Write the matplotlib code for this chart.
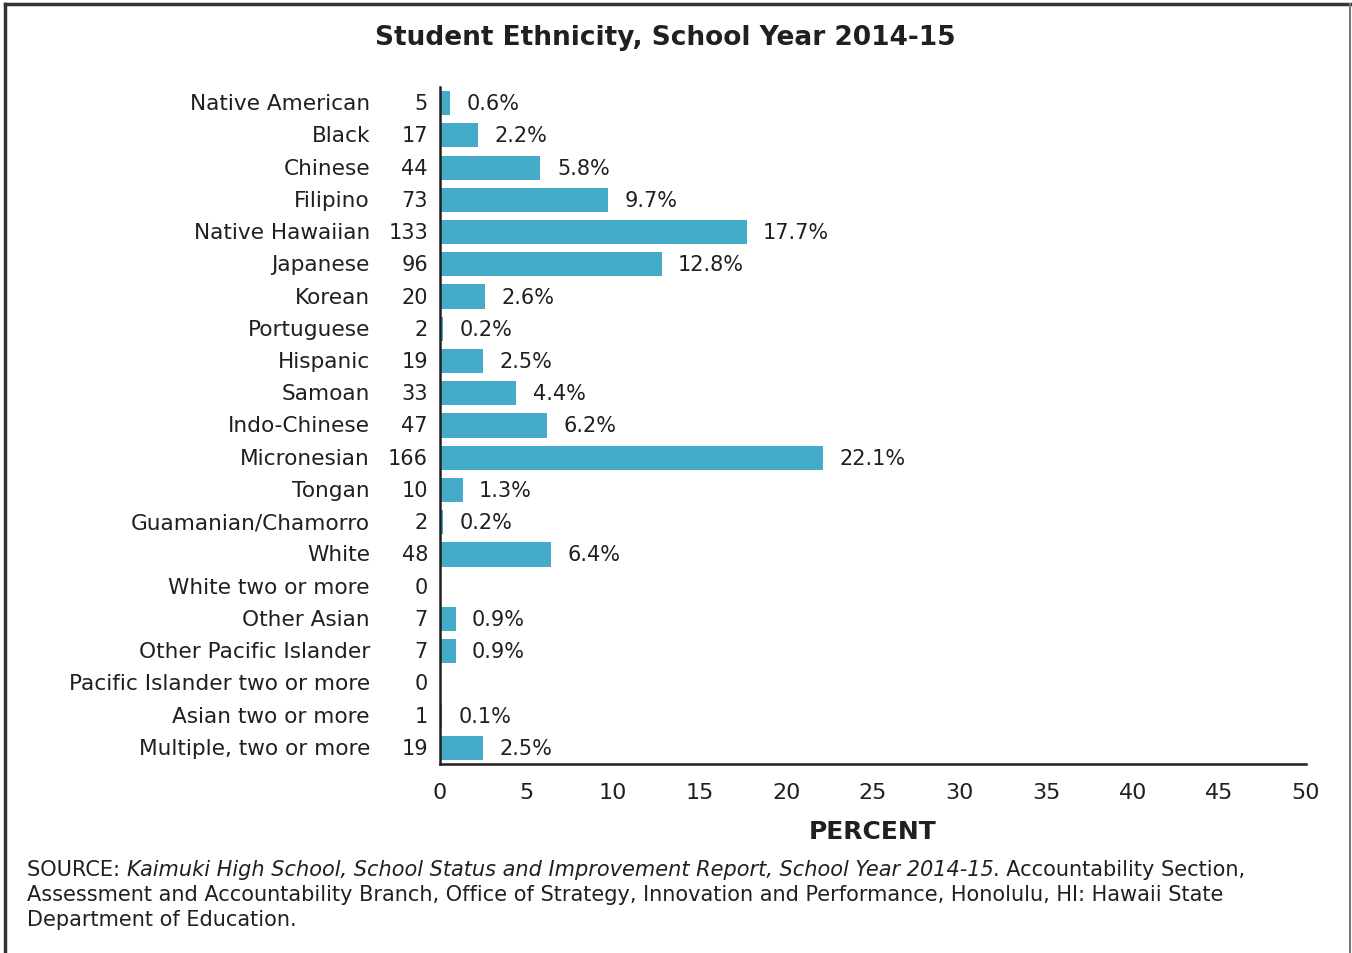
import matplotlib.pyplot as plt
from matplotlib.lines import Line2D

plt.rcParams['font.family'] = ['DejaVu Sans']

categories = ['Native American', 'Black', 'Chinese', 'Filipino', 'Native Hawaiian',
              'Japanese', 'Korean', 'Portuguese', 'Hispanic', 'Samoan', 'Indo-Chinese',
              'Micronesian', 'Tongan', 'Guamanian/Chamorro', 'White', 'White two or more',
              'Other Asian', 'Other Pacific Islander', 'Pacific Islander two or more',
              'Asian two or more', 'Multiple, two or more']
counts = [5, 17, 44, 73, 133, 96, 20, 2, 19, 33, 47, 166, 10, 2, 48, 0, 7, 7, 0, 1, 19]
percents = [0.6, 2.2, 5.8, 9.7, 17.7, 12.8, 2.6, 0.2, 2.5, 4.4, 6.2, 22.1, 1.3, 0.2,
            6.4, 0.0, 0.9, 0.9, 0.0, 0.1, 2.5]
x_ticks = [0, 5, 10, 15, 20, 25, 30, 35, 40, 45, 50]

txt = '#231f20'
bar_color = '#44abc8'
fs = 15

fig = plt.figure(figsize=(13.52, 9.54), dpi=100)
ax = fig.add_axes([440 / 1352, 1 - 765 / 954, 866 / 1352, 677 / 954])

y = list(range(len(categories)))
ax.barh(y, percents, height=0.75, color=bar_color)
ax.set_ylim(len(categories) - 0.5, -0.5)
ax.set_xlim(0, 50)

for i, (c, n, p) in enumerate(zip(categories, counts, percents)):
    ax.text(-70 / 866 * 50, i, c, ha='right', va='center', fontsize=15.6, color=txt)
    ax.text(-12 / 866 * 50, i, str(n), ha='right', va='center', fontsize=fs, color=txt)
    if n > 0:
        ax.text(p + 0.95, i, f'{p:.1f}%', ha='left', va='center', fontsize=fs, color=txt)

ax.set_xticks(x_ticks)
ax.set_xticklabels([str(t) for t in x_ticks], fontsize=16, color=txt)
ax.tick_params(axis='x', length=0, pad=13)
ax.set_yticks([])
for s in ['top', 'right']:
    ax.spines[s].set_visible(False)
for s in ['left', 'bottom']:
    ax.spines[s].set_color(txt)
    ax.spines[s].set_linewidth(1.8)
ax.set_xlabel('PERCENT', fontsize=18, fontweight='bold', color=txt, labelpad=12)

fig.text(665 / 1352, 1 - 38 / 954, 'Student Ethnicity, School Year 2014-15', ha='center',
         va='center', fontsize=19, fontweight='bold', color=txt)

# source note, mixed italic
sfs = 15
t1 = fig.text(27 / 1352, 1 - 870 / 954, 'SOURCE: ', fontsize=sfs, color=txt, va='center')
a = fig.add_artist(plt.Annotation('Kaimuki High School, School Status and Improvement Report, School Year 2014-15',
                                  xy=(1, 0.5), xycoords=t1, va='center', ha='left',
                                  fontsize=sfs, color=txt, style='italic'))
fig.add_artist(plt.Annotation('. Accountability Section,', xy=(1, 0.5), xycoords=a,
                              va='center', ha='left', fontsize=sfs, color=txt))
fig.text(27 / 1352, 1 - 895 / 954,
         'Assessment and Accountability Branch, Office of Strategy, Innovation and Performance, Honolulu, HI: Hawaii State',
         fontsize=sfs, color=txt, va='center')
fig.text(27 / 1352, 1 - 920 / 954, 'Department of Education.', fontsize=sfs, color=txt, va='center')

# frame
fig.add_artist(Line2D([5 / 1352, 5 / 1352], [0, 1 - 5 / 954], color='#333333', lw=2.5,
                      transform=fig.transFigure))
fig.add_artist(Line2D([5 / 1352, 1350 / 1352], [1 - 5 / 954, 1 - 5 / 954], color='#333333', lw=2.5,
                      transform=fig.transFigure))
fig.add_artist(Line2D([1350 / 1352, 1350 / 1352], [0, 1 - 5 / 954], color='#777777', lw=1.5,
                      transform=fig.transFigure))

fig.savefig('out.png', dpi=100)
